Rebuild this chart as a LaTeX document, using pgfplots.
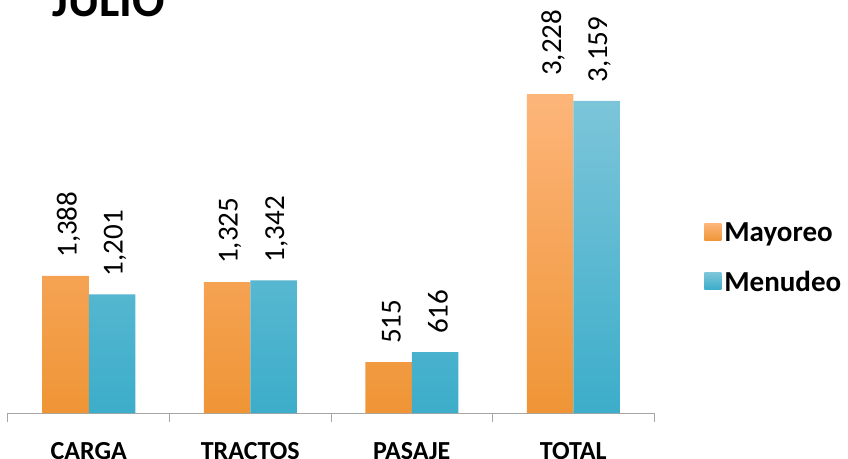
\documentclass[border=0pt]{standalone}
\usepackage{pgfplots}
\pgfplotsset{compat=1.18}
\usepackage{fontspec}
\setmainfont{Carlito}

\definecolor{orTop}{HTML}{FDB57A}
\definecolor{orBot}{HTML}{EF9536}
\definecolor{blTop}{HTML}{7CC5D9}
\definecolor{blBot}{HTML}{3CADCA}
\definecolor{axgray}{HTML}{A6A6A6}

\begin{document}
\begin{tikzpicture}
\begin{axis}[
  at={(8pt,45pt)}, anchor=south west,
  scale only axis, width=646pt, height=355.7pt,
  xmin=-0.5, xmax=3.5, ymin=0, ymax=3600,
  ybar=0pt, bar width=46.5pt,
  axis x line*=bottom, axis y line=none,
  xtick={0,1,2,3}, xticklabels={CARGA,TRACTOS,PASAJE,TOTAL},
  major tick length=0pt,
  minor xtick={-0.5,0.5,1.5,2.5,3.5},
  minor tick length=9pt, tick align=outside,
  x axis line style={axgray, line width=1pt},
  minor x tick style={axgray, line width=1pt},
  xticklabel style={font=\bfseries\fontsize{26}{26}\selectfont, anchor=base,
    inner sep=0pt, yshift=-46pt},
  /pgf/number format/1000 sep={,},
  /pgf/number format/assume math mode=true,
  nodes near coords={\pgfmathprintnumber{\pgfplotspointmeta}},
  every node near coord/.append style={xshift=3pt, yshift=18pt, rotate=90, anchor=west,
    inner sep=0pt, font=\fontsize{29}{29}\selectfont, black},
  legend style={at={(1.073,0.437)}, anchor=west, draw=none, fill=none,
    font=\bfseries\fontsize{29}{29}\selectfont, row sep=22pt,
    nodes={inner sep=3pt}},
  legend cell align=left,
  legend image code/.code={\path[#1, draw=none] (0pt,-8pt) rectangle (17pt,9pt);},
]
\addplot[draw=none, top color=orTop, bottom color=orBot]
  coordinates {(0,1388) (1,1325) (2,515) (3,3228)};
\addplot[draw=none, top color=blTop, bottom color=blBot]
  coordinates {(0,1201) (1,1342) (2,616) (3,3159)};
\legend{Mayoreo, Menudeo}
\end{axis}
\node[anchor=base west, inner sep=0pt, font=\bfseries\fontsize{48}{48}\selectfont]
  at (52pt,441pt) {JULIO};
\pgfresetboundingbox
\path[use as bounding box] (0,0) rectangle (848pt,458pt);
\end{tikzpicture}
\end{document}
